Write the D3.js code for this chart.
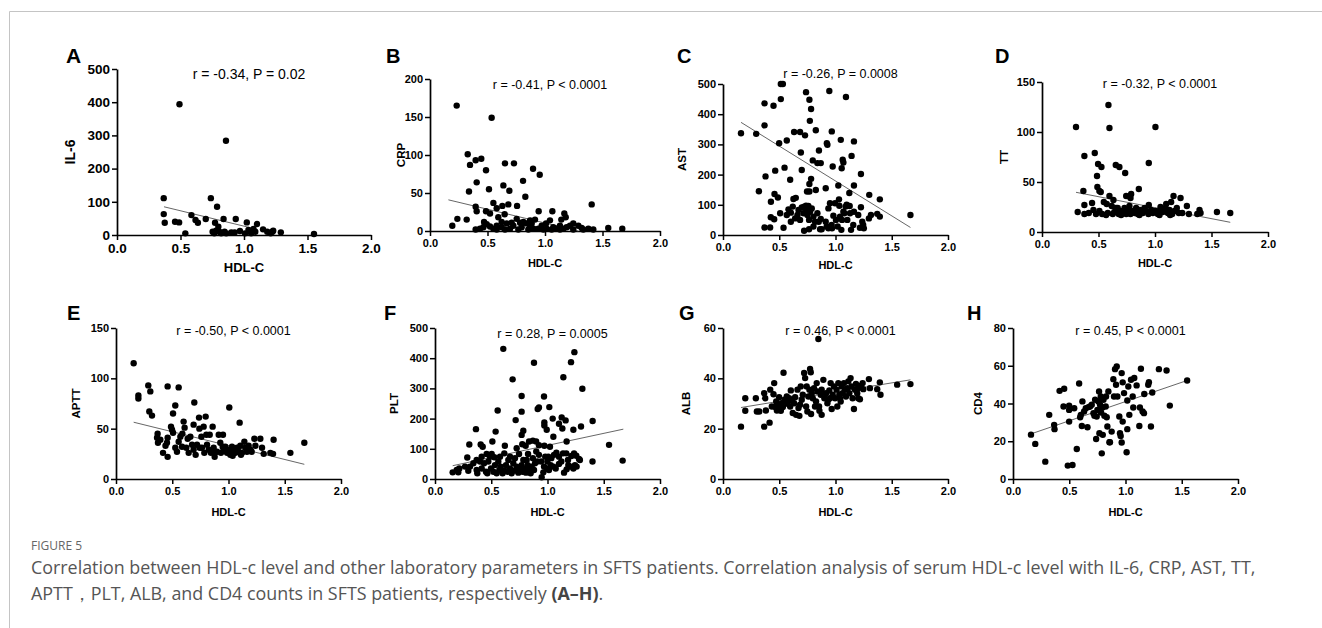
<!DOCTYPE html>
<html>
<head>
<meta charset="utf-8">
<script src="https://cdn.jsdelivr.net/npm/d3@7/dist/d3.min.js"></script>
<style>
  body { margin: 0; background: #fff; }
  svg { display: block; }
</style>
</head>
<body>
<svg id="fig" width="1322" height="628"></svg>
<script>
// ---- data ----
var panelLetters = ["A", "B", "C", "D", "E", "F", "G", "H"];
var yLabels = ["IL-6", "CRP", "AST", "TT", "APTT", "PLT", "ALB", "CD4"];
var xLabel = "HDL-C";
var statTexts = [
  "r = -0.34, P = 0.02", "r = -0.41, P < 0.0001", "r = -0.26, P = 0.0008", "r = -0.32, P < 0.0001",
  "r = -0.50, P < 0.0001", "r = 0.28, P = 0.0005", "r = 0.46, P < 0.0001", "r = 0.45, P < 0.0001"
];
var yMaxes = [500, 200, 500, 150, 150, 500, 60, 80];
var yTickSteps = [100, 50, 100, 50, 50, 100, 20, 20];
var xTicks = [0, 0.5, 1.0, 1.5, 2.0];

// HDL-C, value
var pointsA = [[0.368,111],[0.368,63],[0.376,37],[0.492,394],[0.457,40],[0.489,38],[0.538,5],[0.586,60],
  [0.618,45],[0.637,37],[0.699,48],[0.739,111],[0.788,85],[0.858,284],[0.772,37],[0.753,10],[0.766,5],
  [0.78,13],[0.798,25],[0.806,10],[0.82,5],[0.839,48],[0.847,10],[0.86,5],[0.9,8],[0.927,8],[0.935,48],
  [0.968,12],[1.008,5],[1.022,38],[1.035,15],[1.056,5],[1.075,18],[1.089,10],[1.102,33],[1.15,17],
  [1.183,10],[1.21,5],[1.223,10],[1.23,13],[1.29,8],[1.551,3]];
var pointsB = [[0.232,165],[0.536,149],[0.328,101],[0.348,87],[0.397,93],[0.446,95],[0.487,80],[0.406,64],
  [0.339,52],[0.513,55],[0.652,89],[0.73,89],[0.638,60],[0.69,53],[0.681,35],[0.757,33],[0.809,66],
  [0.829,45],[0.896,82],[0.954,74],[0.551,37],[0.58,30],[0.397,32],[0.406,26],[0.487,26],[0.522,23],
  [0.629,33],[0.649,22],[0.594,18],[0.945,26],[1.064,26],[1.168,23],[1.18,18],[1.142,15],[1.406,35],
  [0.238,16],[0.194,7],[0.319,15],[0.397,2],[1.55,4],[1.672,3],[1.377,3],[1.319,4],[1.29,7],[1.246,10],
  [1.217,7],[1.13,7],[1.072,5],[1.043,14],[1.009,10],[0.971,7],[0.913,15],[0.87,5],[0.84,10],[0.797,5],
  [0.754,16],[0.725,7],[0.696,3],[0.667,10],[0.623,5],[0.58,7],[0.551,3],[0.522,6],[0.493,9],[0.464,5],
  [0.435,3],[0.47,12],[0.71,11],[0.783,11],[0.884,10],[0.942,3],[1.014,3],[1.101,3],[1.159,3],[1.188,5],
  [1.333,2],[1.42,2],[0.58,2],[0.652,2],[0.768,2],[0.855,2],[0.9,3],[0.986,2],[1.058,2],[1.13,2],
  [1.246,2],[0.623,12],[0.87,14],[0.812,12]];
var pointsC = [[0.16,337],[0.295,335],[0.369,436],[0.369,363],[0.449,428],[0.514,500],[0.532,500],[0.514,450],
  [0.499,304],[0.567,313],[0.632,341],[0.685,341],[0.729,330],[0.738,473],[0.768,448],[0.783,417],
  [0.772,378],[0.825,347],[0.945,477],[1.093,457],[0.967,343],[0.923,304],[0.928,299],[1.047,315],
  [1.164,310],[0.692,273],[0.853,280],[1.143,262],[1.064,249],[1.07,240],[1.055,221],[0.975,227],
  [0.798,247],[0.839,238],[0.869,238],[0.7,215],[0.547,223],[0.464,213],[0.378,194],[0.597,183],
  [0.783,186],[0.768,169],[0.747,144],[0.913,155],[1.025,164],[1.164,164],[1.226,202],[1.123,139],
  [1.3,133],[1.394,118],[0.319,145],[0.458,136],[0.488,124],[0.426,110],[0.626,119],[0.647,123],
  [0.768,144],[0.825,149],[1.031,118],[0.369,25],[0.419,25],[0.538,24],[0.425,59],[0.455,52],[0.508,72],
  [0.582,85],[0.603,74],[0.62,94],[0.641,55],[0.671,83],[0.685,50],[0.715,72],[0.721,94],[0.738,97],
  [0.744,83],[0.75,66],[0.759,96],[0.765,50],[0.774,77],[0.789,88],[0.804,61],[0.818,44],[0.839,72],
  [0.851,44],[0.869,53],[0.721,14],[0.765,19],[0.804,28],[0.877,19],[0.913,44],[0.922,28],[0.937,88],
  [0.951,105],[0.966,33],[0.969,22],[0.981,64],[0.996,105],[1.004,50],[1.019,28],[1.034,97],[1.04,61],
  [1.052,17],[1.058,50],[1.07,77],[1.078,72],[1.09,94],[1.099,100],[1.105,50],[1.126,96],[1.129,72],
  [1.138,17],[1.158,33],[1.164,77],[1.202,66],[1.217,24],[1.226,92],[1.238,44],[1.246,33],[1.252,22],
  [1.297,55],[1.315,66],[1.371,70],[1.394,61],[1.666,66],[0.863,19],[0.937,22],[0.603,44],[0.662,66],
  [0.7,91],[0.567,66]];
var pointsD = [[0.301,105],[0.588,127],[0.597,104],[1.004,105],[0.375,76],[0.467,79],[0.496,68],[0.526,65],
  [0.487,56],[0.653,67],[0.685,65],[0.736,59],[0.945,69],[0.366,41],[0.49,45],[0.508,41],[0.52,40],
  [0.597,36],[0.632,32],[0.547,30],[0.573,28],[0.745,36],[0.789,38],[0.783,34],[0.857,43],[1.164,36],
  [1.226,34],[1.143,30],[1.099,28],[1.049,25],[0.945,27],[1.282,26],[0.316,20],[0.375,18],[0.414,19],
  [0.443,29],[0.375,27],[0.455,22],[0.478,18],[0.508,21],[0.532,18],[0.567,17],[0.617,26],[0.64,20],
  [0.655,24],[0.679,18],[0.693,21],[0.714,19],[0.73,24],[0.745,18],[0.762,22],[0.774,26],[0.783,18],
  [0.804,21],[0.821,19],[0.833,24],[0.848,18],[0.868,22],[0.892,19],[0.907,24],[0.922,21],[0.942,18],
  [0.966,22],[0.981,19],[1.004,21],[1.025,18],[1.046,22],[1.069,20],[1.093,24],[1.114,19],[1.128,22],
  [1.152,18],[1.173,21],[1.193,24],[1.211,19],[1.241,19],[1.3,18],[1.374,18],[1.394,22],[1.403,19],
  [1.548,20],[1.666,19],[0.582,19],[0.626,18],[0.67,24],[0.7,17],[0.862,17],[1.04,17],[1.134,17]];
var pointsE = [[0.157,115],[0.199,83],[0.199,80],[0.287,93],[0.305,87],[0.296,67],[0.32,63],[0.459,92],
  [0.557,91],[0.527,73],[0.507,65],[0.696,76],[0.738,61],[0.797,62],[1.007,71],[1.099,56],[0.37,45],
  [0.365,41],[0.373,36],[0.394,39],[0.44,33],[0.453,36],[0.459,41],[0.418,26],[0.459,22],[0.489,52],
  [0.498,49],[0.507,46],[0.527,31],[0.542,27],[0.557,37],[0.572,42],[0.59,45],[0.601,57],[0.61,51],
  [0.637,40],[0.625,31],[0.661,42],[0.676,34],[0.69,54],[0.708,24],[0.72,34],[0.741,50],[0.759,42],
  [0.764,31],[0.779,52],[0.785,26],[0.803,44],[0.809,34],[0.833,44],[0.844,26],[0.859,52],[0.868,31],
  [0.877,22],[0.898,27],[0.913,44],[0.927,36],[0.933,26],[0.951,44],[0.957,29],[0.972,32],[0.987,26],
  [1.001,29],[1.016,24],[1.031,32],[1.046,27],[1.061,26],[1.076,31],[1.09,27],[1.105,33],[1.12,26],
  [1.141,37],[1.15,31],[1.164,27],[1.179,33],[1.194,29],[1.23,40],[1.239,33],[1.283,40],[1.298,31],
  [1.313,25],[1.372,26],[1.396,25],[1.401,39],[1.55,26],[1.674,36],[0.587,32],[0.646,26],[0.69,29],
  [0.744,31],[0.824,29],[0.883,27],[0.948,32],[1.037,23],[1.111,24],[1.206,27]];
var pointsF = [[0.607,431],[0.88,385],[0.69,330],[1.239,420],[1.209,387],[1.141,337],[1.31,299],[0.77,275],
  [0.969,273],[0.557,227],[0.77,223],[0.913,232],[0.924,237],[1.016,238],[0.717,195],[1.046,200],
  [1.126,204],[1.161,194],[0.972,187],[0.972,177],[0.993,163],[1.102,183],[1.132,167],[1.23,163],
  [1.298,174],[1.401,192],[0.364,165],[0.539,157],[0.785,160],[0.77,146],[1.052,140],[0.87,127],
  [0.836,124],[0.899,124],[1.17,124],[0.305,114],[1.547,113],[0.406,114],[0.424,107],[0.51,124],
  [0.621,110],[0.776,115],[0.806,110],[0.924,112],[0.972,110],[1.022,107],[0.726,102],[0.287,71],
  [0.37,63],[0.415,74],[0.459,83],[0.489,74],[0.504,83],[0.527,72],[0.578,74],[0.616,85],[0.667,74],
  [0.711,69],[0.747,83],[0.785,63],[0.827,83],[0.87,69],[0.9,91],[0.924,80],[0.944,58],[0.98,74],
  [0.999,58],[1.034,69],[1.058,80],[1.079,87],[1.102,74],[1.123,58],[1.138,85],[1.167,85],[1.182,63],
  [1.212,76],[1.236,85],[1.256,77],[1.28,66],[1.4,58],[1.668,61],[1.288,63],[0.157,22],[0.193,30],
  [0.207,22],[0.296,27],[0.311,41],[0.37,30],[0.376,19],[0.415,35],[0.453,24],[0.465,19],[0.498,35],
  [0.519,24],[0.533,46],[0.548,19],[0.572,30],[0.584,41],[0.601,19],[0.616,28],[0.631,46],[0.646,24],
  [0.667,35],[0.681,19],[0.696,52],[0.711,28],[0.726,41],[0.741,21],[0.756,35],[0.77,46],[0.779,24],
  [0.8,35],[0.809,21],[0.824,46],[0.836,30],[0.85,19],[0.859,41],[0.88,30],[0.889,52],[0.948,6],
  [0.963,22],[0.969,41],[0.993,35],[1.013,30],[1.028,46],[1.052,41],[1.073,35],[1.102,50],[1.147,21],
  [1.17,32],[1.185,46],[1.206,41],[1.23,35],[1.244,46],[1.259,41],[0.216,35],[0.267,41],[0.341,52],
  [0.4,58],[0.436,52],[0.474,58],[0.563,58],[0.652,63],[0.815,63],[0.91,58],[1.007,74]];
var pointsG = [[0.16,20.8],[0.198,32.1],[0.198,27.1],[0.292,32.1],[0.301,26.8],[0.322,26.8],[0.366,20.8],
  [0.366,34.1],[0.375,32.1],[0.381,27.2],[0.414,22.4],[0.42,35.5],[0.455,38.1],[0.449,33.7],[0.434,28.8],
  [0.464,28.6],[0.479,27.2],[0.494,29.1],[0.499,32.5],[0.514,27.1],[0.532,28.6],[0.538,42.2],[0.547,31.5],
  [0.567,32.8],[0.573,29.9],[0.588,32.1],[0.597,28.8],[0.603,35.2],[0.612,31.2],[0.62,26.2],[0.632,30.1],
  [0.641,32.5],[0.65,25.5],[0.662,35.5],[0.671,28.2],[0.679,25.1],[0.691,36.8],[0.7,31.5],[0.709,33.5],
  [0.721,42.1],[0.73,40.1],[0.739,28.8],[0.744,36.8],[0.75,26.8],[0.759,32.8],[0.768,35.5],[0.774,43.7],
  [0.78,42.4],[0.783,25.8],[0.789,34.1],[0.798,32.1],[0.809,36.1],[0.818,28.8],[0.827,30.8],[0.839,34.8],
  [0.848,55.6],[0.854,28.8],[0.857,27.1],[0.869,33.5],[0.877,35.5],[0.892,39.4],[0.901,32.1],[0.916,34.1],
  [0.928,30.1],[0.936,31.5],[0.945,35.2],[0.957,38.1],[0.966,27.8],[0.975,33.5],[0.987,36.8],[0.996,32.1],
  [1.01,35.5],[1.016,28.8],[1.025,38.1],[1.034,33.5],[1.046,30.8],[1.055,36.8],[1.064,34.1],[1.075,38.1],
  [1.084,35.5],[1.093,32.8],[1.105,36.1],[1.114,38.8],[1.123,34.1],[1.134,40.1],[1.143,36.8],[1.152,32.1],
  [1.164,27.8],[1.173,35.5],[1.182,37.8],[1.193,34.1],[1.202,36.1],[1.217,31.7],[1.226,37.1],[1.241,38.1],
  [1.247,35.7],[1.297,39.7],[1.306,36.1],[1.371,35.7],[1.394,38.4],[1.4,33.5],[1.548,37.5],[1.666,37.7],
  [0.473,30.8],[0.523,30.1],[0.685,29.5],[0.833,38.1],[0.877,25.5],[0.95,32.1],[1.04,32.1],[1.202,32.1]];
var pointsH = [[0.16,23.5],[0.198,18.6],[0.287,9.2],[0.322,34],[0.366,28.7],[0.369,26.4],[0.414,46.7],
  [0.455,47.8],[0.449,38.4],[0.499,38.8],[0.499,36.6],[0.499,30.4],[0.544,37.5],[0.487,7.1],[0.529,7.4],
  [0.567,15.9],[0.588,50.6],[0.597,32.7],[0.603,34],[0.612,28.1],[0.617,41.1],[0.632,35.8],[0.647,37.5],
  [0.662,27.4],[0.671,38.1],[0.685,38.4],[0.7,39.3],[0.715,34.9],[0.724,33.5],[0.73,42],[0.739,21.2],
  [0.744,33.1],[0.75,36.6],[0.759,41.1],[0.765,46.4],[0.768,24.2],[0.774,39.3],[0.78,43.7],[0.783,35.2],
  [0.789,13.6],[0.795,37.9],[0.798,23.4],[0.804,42],[0.812,33.5],[0.824,38.4],[0.827,43.7],[0.833,32.7],
  [0.839,27.8],[0.848,46.4],[0.857,19.5],[0.877,25.1],[0.892,52.9],[0.898,43.7],[0.907,58.2],[0.916,49.9],
  [0.922,59.6],[0.928,43.7],[0.945,33.1],[0.951,24.2],[0.957,22.8],[0.966,19.3],[0.966,56.1],[0.975,51.2],
  [0.975,30.4],[0.987,45.5],[1.016,26.4],[1.016,41.6],[1.025,49],[1.034,34],[1.049,52.6],[1.064,43.7],
  [1.069,37.9],[1.078,53.5],[1.099,49.6],[1.123,28.1],[1.128,37.9],[1.137,58.4],[1.152,35.8],[1.167,45],
  [1.164,34.9],[1.202,49.9],[1.208,51.3],[1.226,27.8],[1.238,45.8],[1.297,58.2],[1.365,57.5],[1.394,38.9],
  [1.548,52.2],[1.01,14.2],[0.862,19.5]];
var allPoints = [pointsA, pointsB, pointsC, pointsD, pointsE, pointsF, pointsG, pointsH];

// regression line end points [x0, y0, x1, y1] as drawn
var fitLines = [
  [0.37, 85, 1.05, 22], [0.16, 41, 1.29, 0], [0.16, 373, 1.666, 25], [0.301, 39.7, 1.666, 9.7],
  [0.157, 56.4, 1.674, 14.6], [0.157, 44, 1.674, 165], [0.16, 28.4, 1.666, 39.4], [0.16, 23.9, 1.548, 52.2]
];

var captionHead = "FIGURE 5";
var captionLine1 = "Correlation between HDL-c level and other laboratory parameters in SFTS patients. Correlation analysis of serum HDL-c level with IL-6, CRP, AST, TT,";
var captionLine2 = "APTT\uff0cPLT, ALB, and CD4 counts in SFTS patients, respectively ";
var captionRef = "(A\u2013H)";

// ---- layout of the eight panels ----
var layout = [
  {l: 117, r: 371, t: 69, b: 235, lx: 66, ly: 63, yl: 75, st: 79, xl: 272, big: true},
  {l: 430, r: 660, t: 79, b: 231, lx: 386, ly: 63, yl: 405, st: 89, xl: 267},
  {l: 723, r: 948, t: 84, b: 235, lx: 677, ly: 63, yl: 686, st: 78, xl: 269},
  {l: 1042, r: 1268, t: 82, b: 232, lx: 995, ly: 63, yl: 1008, st: 88, xl: 267},
  {l: 116, r: 341, t: 328, b: 479, lx: 67, ly: 320, yl: 80, st: 335, xl: 516},
  {l: 435, r: 660, t: 328, b: 479, lx: 384, ly: 320, yl: 398, st: 338, xl: 516},
  {l: 723, r: 948, t: 328, b: 479, lx: 679, ly: 320, yl: 690, st: 335, xl: 516},
  {l: 1013, r: 1238, t: 328, b: 479, lx: 967, ly: 320, yl: 982, st: 335, xl: 516}
];

var font = "'Liberation Sans', Arial, sans-serif";
var svg = d3.select("#fig");

// frame
svg.append("path")
  .attr("d", "M9.5,628 V11.5 H1322")
  .attr("fill", "none")
  .attr("stroke", "#c4c4c4")
  .attr("stroke-width", 1);

layout.forEach(function (p, i) {
  var tickSize = p.big ? 13.5 : 11;
  var g = svg.append("g");

  var x = d3.scaleLinear().domain([0, 2]).range([p.l, p.r]);
  var y = d3.scaleLinear().domain([0, yMaxes[i]]).range([p.b, p.t]);
  var yTicks = d3.range(0, yMaxes[i] + 0.001, yTickSteps[i]);

  var axisX = d3.axisBottom(x).tickValues(xTicks).tickFormat(d3.format(".1f"))
    .tickSizeInner(5).tickSizeOuter(0).tickPadding(3);
  var axisY = d3.axisLeft(y).tickValues(yTicks).tickFormat(d3.format("d"))
    .tickSizeInner(5).tickSizeOuter(0).tickPadding(2);

  var gx = g.append("g").attr("transform", "translate(0," + p.b + ")").call(axisX);
  var gy = g.append("g").attr("transform", "translate(" + p.l + ",0)").call(axisY);

  [gx, gy].forEach(function (ax) {
    ax.select(".domain").attr("stroke", "#000").attr("stroke-width", 1.7);
    ax.selectAll(".tick line").attr("stroke", "#000").attr("stroke-width", 1.5);
    ax.selectAll(".tick text")
      .attr("fill", "#000")
      .style("font-family", font)
      .style("font-weight", "bold")
      .style("font-size", tickSize + "px");
  });

  // regression line
  var f = fitLines[i];
  g.append("line")
    .attr("x1", x(f[0])).attr("y1", y(f[1]))
    .attr("x2", x(f[2])).attr("y2", y(f[3]))
    .attr("stroke", "#555")
    .attr("stroke-width", 0.9);

  g.selectAll("circle")
    .data(allPoints[i])
    .enter()
    .append("circle")
    .attr("cx", function (d) { return x(d[0]); })
    .attr("cy", function (d) { return y(d[1]); })
    .attr("r", 3.2)
    .attr("fill", "#000");

  // panel letter
  g.append("text")
    .attr("x", p.lx).attr("y", p.ly)
    .style("font-family", font)
    .style("font-weight", "bold")
    .style("font-size", (p.big ? 21 : 20) + "px")
    .text(panelLetters[i]);

  // statistics
  g.append("text")
    .attr("x", (p.l + p.r) / 2 + 5).attr("y", p.st)
    .attr("text-anchor", "middle")
    .style("font-family", font)
    .style("font-size", (p.big ? 14 : 12.5) + "px")
    .text(statTexts[i]);

  // axis titles
  g.append("text")
    .attr("transform", "translate(" + p.yl + "," + (p.t + p.b) / 2 + ") rotate(-90)")
    .attr("text-anchor", "middle")
    .style("font-family", font)
    .style("font-weight", "bold")
    .style("font-size", (p.big ? 14 : 11.5) + "px")
    .text(yLabels[i]);

  g.append("text")
    .attr("x", (p.l + p.r) / 2).attr("y", p.xl)
    .attr("text-anchor", "middle")
    .style("font-family", font)
    .style("font-weight", "bold")
    .style("font-size", (p.big ? 13 : 11) + "px")
    .text(xLabel);
});

// caption
var capFont = "'Open Sans', 'Noto Sans', sans-serif";
svg.append("text")
  .attr("x", 31).attr("y", 550)
  .attr("fill", "#666")
  .style("font-family", capFont)
  .style("font-size", "12px")
  .text(captionHead);

var line1 = svg.append("text")
  .attr("x", 31).attr("y", 574)
  .attr("fill", "#555")
  .style("font-family", capFont)
  .style("font-size", "15px")
  .text(captionLine1);

// fit caption size to the width it takes in the figure
var w1 = line1.node().getComputedTextLength();
var fs = 15 * 1225 / w1;
line1.style("font-size", fs + "px");

var line2 = svg.append("text")
  .attr("x", 31).attr("y", 574 + Math.ceil(fs * 1.4))
  .attr("fill", "#555")
  .style("font-family", capFont)
  .style("font-size", fs + "px");
line2.append("tspan").text(captionLine2);
line2.append("tspan").style("font-weight", "bold").attr("fill", "#444").text(captionRef);
line2.append("tspan").text(".");
</script>
</body>
</html>
